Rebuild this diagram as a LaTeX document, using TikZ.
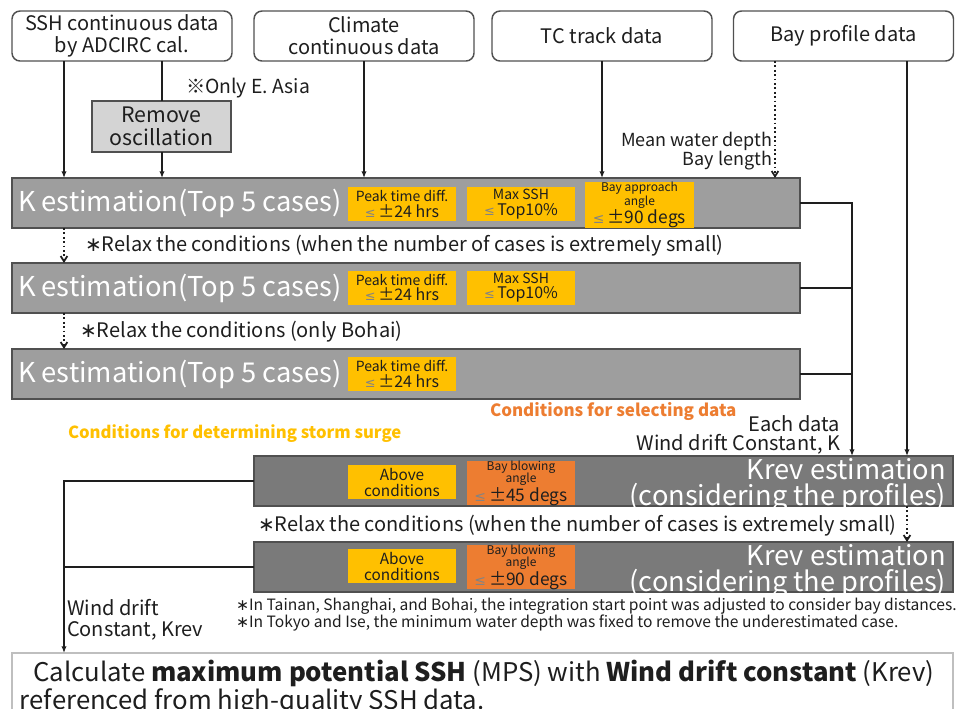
\documentclass[tikz,border=0pt]{standalone}
\usepackage{fontspec}
\setmainfont{Noto Sans CJK JP}
\newfontfamily\djv{DejaVu Sans}
\newcommand\stx{{\djv ∗}}
\usetikzlibrary{arrows.meta}
\definecolor{kgray}{RGB}{158,158,158}
\definecolor{krgray}{RGB}{122,122,122}
\definecolor{edgegray}{RGB}{80,80,80}
\definecolor{remgray}{RGB}{212,212,212}
\definecolor{cyel}{RGB}{255,192,0}
\definecolor{corg}{RGB}{237,125,49}
\definecolor{txt}{RGB}{30,30,30}
\newcommand\fs[2]{\fontsize{#1}{#2}\selectfont}
\newcommand\lesym{{\djv\fontsize{0.8em}{1em}\selectfont\color{txt!55}≤}\,}
\begin{document}
\begin{tikzpicture}[x=0.75pt,y=-0.75pt,
  every node/.style={inner sep=0pt,outer sep=0pt,text=txt},
  inbox/.style={draw=edgegray,line width=1.1pt,rounded corners=6pt,fill=white,minimum width=165pt,minimum height=37.5pt,align=center,font=\fs{15pt}{16.5pt},text=txt},
  kbox/.style={draw=edgegray,line width=1pt,fill=kgray,minimum width=591pt,minimum height=37.5pt},
  krbox/.style={draw=edgegray,line width=1pt,fill=krgray,minimum width=524.25pt,minimum height=37.5pt},
  ktext/.style={anchor=west,text=white,font=\fs{20.5pt}{24pt}},
  cond/.style={fill=cyel,minimum width=81pt,minimum height=25.5pt,align=center,font=\fs{10.5pt}{11.5pt}},
  ocond/.style={cond,fill=corg},
  conn/.style={line width=1.5pt,draw=txt},
  arr/.style={conn,-{Latex[length=5pt,width=4pt]}},
  darr/.style={line width=1.3pt,draw=txt,dotted,-{Straight Barb[length=4pt,width=5pt]}},
  lbl/.style={font=\fs{15pt}{16pt}},
]
\useasboundingbox (0,0) rectangle (958,708);
\fill[white] (0,0) rectangle (958,708);
\coordinate (xa) at (64,0);
\coordinate (xs) at (162,0);
\coordinate (xc) at (364,0);
\coordinate (xt) at (602,0);
\coordinate (xd) at (775,0);
\coordinate (xr) at (852,0);
\coordinate (xb) at (907,0);

% input boxes
\node[inbox] (ssh) at (122,36) {SSH continuous data\\by ADCIRC cal.};
\node[inbox] (clim) at (364,36) {Climate\\continuous data};
\node[inbox] (tc) at (602,36) {TC track data};
\node[inbox] (bay) at (843.5,36) {Bay profile data};
\node[draw=edgegray,line width=1pt,fill=remgray,minimum width=104.25pt,minimum height=38.25pt,align=center,font=\fs{16pt}{17.25pt}] (rem) at (161.5,126.5) {Remove\\oscillation};
\node[font=\fs{14.5pt}{16pt},anchor=west] (asia) at (186,88) {※Only E. Asia};

% K estimation boxes
\node[kbox] (k1) at (406,203) {};
\node[kbox] (k2) at (406,288) {};
\node[kbox] (k3) at (406,374) {};
\node[ktext] (k1t) at (18,203) {K estimation(Top 5 cases)};
\node[ktext] (k2t) at (18,288) {K estimation(Top 5 cases)};
\node[ktext] (k3t) at (18,374) {K estimation(Top 5 cases)};

\node[cond] (p1) at (402,204) {Peak time diff.\\{\fs{12pt}{12pt}\lesym±24 hrs}};
\node[cond] (m1) at (521,204) {Max SSH\\{\fs{12pt}{12pt}\lesym Top10\%}};
\node[cond,minimum width=81.75pt,font=\fs{9pt}{8.5pt}] (b1) at (639.5,205) {Bay approach\\angle\\{\fs{13pt}{11pt}\lesym±90 degs}};
\node[cond] (p2) at (402,287.5) {Peak time diff.\\{\fs{12pt}{12pt}\lesym±24 hrs}};
\node[cond] (m2) at (521,287.5) {Max SSH\\{\fs{12pt}{12pt}\lesym Top10\%}};
\node[cond] (p3) at (402,374) {Peak time diff.\\{\fs{12pt}{12pt}\lesym±24 hrs}};

\node[lbl,anchor=west] (r1) at (85,246) {\stx Relax the conditions (when the number of cases is extremely small)};
\node[lbl,anchor=west] (r2) at (80,332) {\stx Relax the conditions (only Bohai)};

\node[font=\fs{12.7pt}{14pt}\bfseries,text=corg,anchor=west] (csel) at (490,411) {Conditions for selecting data};
\node[font=\fs{12.5pt}{14pt}\bfseries,text=cyel,anchor=west] (cdet) at (68,434) {Conditions for determining storm surge};
\node[font=\fs{15pt}{14.25pt},anchor=east,align=right] (each) at (840,435) {Each data\\Wind drift Constant, K};
\node[font=\fs{13.5pt}{13.5pt},anchor=east,align=right] (mwd) at (772,151) {Mean water depth\\Bay length};

% Krev boxes
\node[krbox] (kr1) at (603.5,481) {};
\node[krbox] (kr2) at (603.5,567) {};
\node[anchor=east,align=right,text=white,font=\fs{20.4pt}{19.5pt}] (kr1t) at (946,485) {Krev estimation\\(considering the profiles)};
\node[anchor=east,align=right,text=white,font=\fs{20.4pt}{19.5pt}] (kr2t) at (946,571) {Krev estimation\\(considering the profiles)};
\node[cond,font=\fs{11.5pt}{12pt}] (a1) at (402,482) {Above\\conditions};
\node[ocond,font=\fs{9pt}{9.5pt}] (o1) at (521,483) {Bay blowing\\angle\\{\fs{13pt}{11pt}\lesym±45 degs}};
\node[cond,font=\fs{11.5pt}{12pt}] (a2) at (402,566) {Above\\conditions};
\node[ocond,font=\fs{9pt}{9.5pt}] (o2) at (521,567) {Bay blowing\\angle\\{\fs{13pt}{11pt}\lesym±90 degs}};

\node[lbl,anchor=west] (r3) at (258,526) {\stx Relax the conditions (when the number of cases is extremely small)};
\node[font=\fs{11.7pt}{12.75pt},anchor=west,align=left] (fn) at (236,615) {\stx In Tainan, Shanghai, and Bohai, the integration start point was adjusted to consider bay distances.\\\stx In Tokyo and Ise, the minimum water depth was fixed to remove the underestimated case.};
\node[font=\fs{15pt}{15.75pt},anchor=west,align=left] (wdk) at (67,620) {Wind drift\\Constant, Krev};

% bottom box
\node[draw=black!25,line width=2.2pt,fill=white,minimum width=705.75pt,minimum height=75pt,anchor=north] (bot) at (482.5,653) {};
\node[font=\fs{19.3pt}{19pt},anchor=west,align=left] (bott) at (20,688) {\hspace*{10pt}Calculate \textbf{maximum potential SSH} (MPS) with \textbf{Wind drift constant} (Krev)\\referenced from high-quality SSH data.};

% connectors
\draw[arr] (ssh.south -| xa) -- (k1.north -| xa);
\draw[conn] (ssh.south -| xs) -- (rem.north -| xs);
\draw[arr] (rem.south -| xs) -- (k1.north -| xs);
\draw[arr] (clim.south) -- (k1.north -| xc);
\draw[arr] (tc.south) -- (k1.north -| xt);
\draw[darr] (bay.south -| xd) -- (k1.north -| xd);
\draw[arr] (bay.south -| xb) -- (kr1.north -| xb);
\draw[darr] (k1.south -| xa) -- (k2.north -| xa);
\draw[darr] (k2.south -| xa) -- (k3.north -| xa);
\draw[arr] (k1.east) -| (kr1.north -| xr);
\draw[conn] (k2.east) -- (k2.east -| xr);
\draw[conn] (k3.east) -- (k3.east -| xr);
\draw[darr] (kr1.south -| xb) -- (kr2.north -| xb);
\draw[arr] (kr1.west) -| (bot.north -| xa);
\draw[conn] (kr2.west) -- (kr2.west -| xa);
\end{tikzpicture}
\end{document}
